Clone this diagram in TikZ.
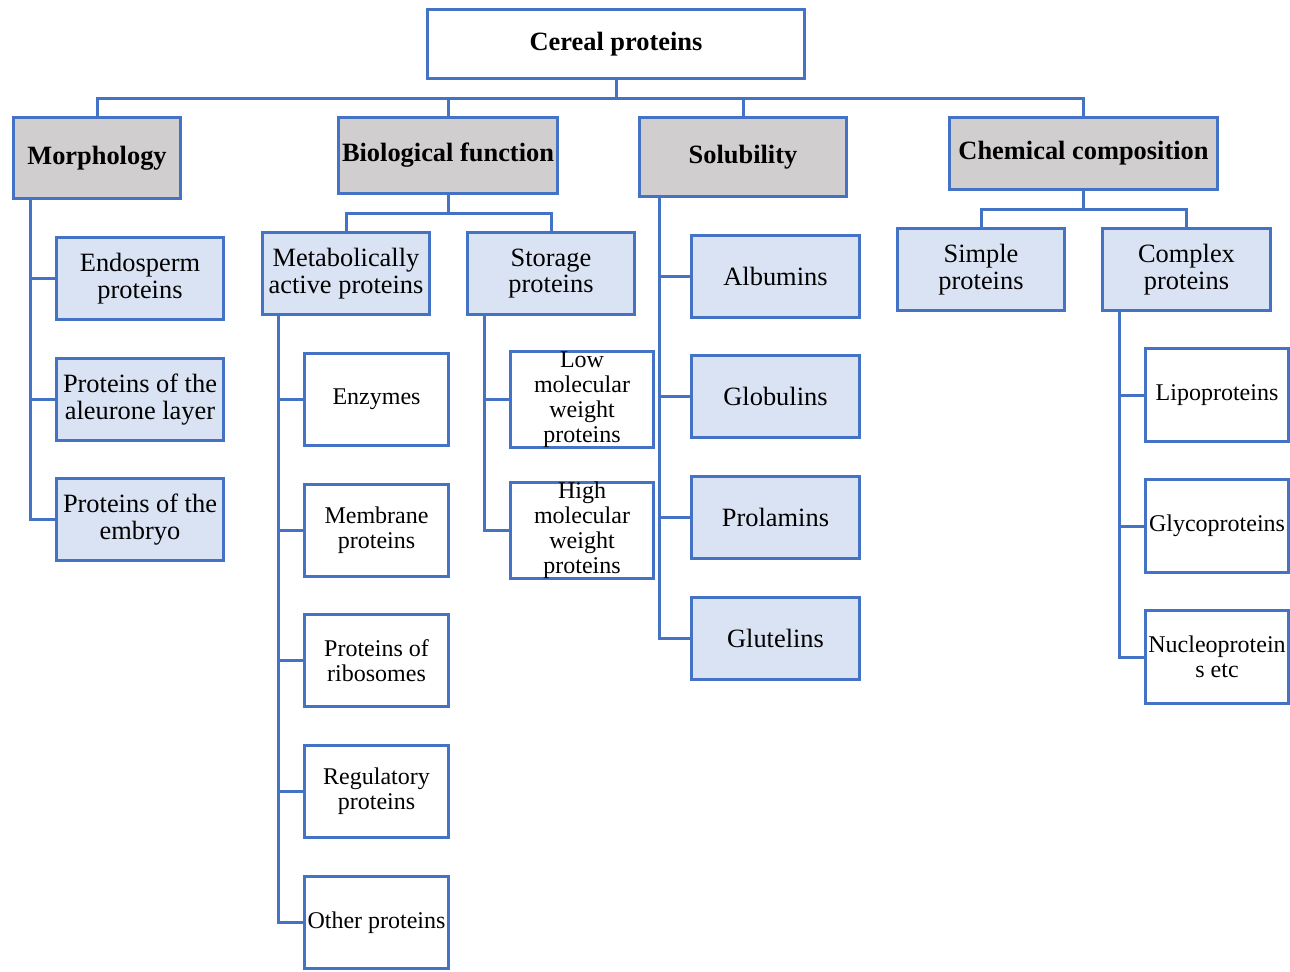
\documentclass[tikz,border=0pt]{standalone}
\usepackage{fontspec}
\setmainfont{Liberation Serif}
\definecolor{lineblue}{HTML}{4472C4}
\definecolor{catgray}{HTML}{D0CECE}
\definecolor{boxblue}{HTML}{DAE3F3}
\newcommand\bigtxt{\fontsize{13.2}{13.4}\selectfont}
\newcommand\smalltxt{\fontsize{12}{12.5}\selectfont}
\begin{document}
\begin{tikzpicture}[x=0.5pt, y=-0.5pt,
  box/.style={draw=lineblue, line width=1.5pt, align=center, inner sep=1pt},
  sz/.style 2 args={minimum width=#1*0.5pt, minimum height=#2*0.5pt},
  cat/.style={box, fill=catgray, font=\bigtxt\bfseries},
  sub/.style={box, fill=boxblue, font=\bigtxt},
  leaf/.style={box, fill=white, font=\smalltxt},
  link/.style={draw=lineblue, line width=1.5pt}]
  \useasboundingbox (0,0) rectangle (1290,971);
  % top level
  \node[box, font=\bigtxt\bfseries, sz={377}{69}] (root) at (616,44) {Cereal proteins};
  \node[cat, sz={167}{81}] (morph) at (97,158) {Morphology};
  \node[cat, sz={219}{76}] (bio) at (448,155.5) {Biological function};
  \node[cat, sz={207}{79}] (sol) at (743,157) {Solubility};
  \node[cat, sz={268}{72}] (chem) at (1083.5,153.5) {Chemical composition};
  % morphology
  \node[sub, sz={167}{82}] (endo) at (140,278.5) {Endosperm\\proteins};
  \node[sub, sz={167}{82}] (aleu) at (140,399.5) {Proteins of the\\aleurone layer};
  \node[sub, sz={167}{82}] (embr) at (140,519.5) {Proteins of the\\embryo};
  % biological function
  \node[sub, sz={167}{82}] (metab) at (346,273.5) {Metabolically\\active proteins};
  \node[sub, sz={167}{82}] (stor) at (551,273.5) {Storage\\proteins};
  \node[leaf, sz={144}{92}] (enz) at (376.5,399.5) {Enzymes};
  \node[leaf, sz={144}{92}] (memb) at (376.5,530.5) {Membrane\\proteins};
  \node[leaf, sz={144}{92}] (ribo) at (376.5,660.5) {Proteins of\\ribosomes};
  \node[leaf, sz={144}{92}] (regu) at (376.5,791.5) {Regulatory\\proteins};
  \node[leaf, sz={144}{92}] (othr) at (376.5,922.5) {Other proteins};
  \node[leaf, inner ysep=0pt, sz={143}{92}] (lmw) at (582,399.5) {Low\\molecular\\weight\\proteins};
  \node[leaf, inner ysep=0pt, sz={143}{92}] (hmw) at (582,530.5) {High\\molecular\\weight\\proteins};
  % solubility
  \node[sub, sz={168}{82}] (alb) at (775.5,276.5) {Albumins};
  \node[sub, sz={168}{82}] (glob) at (775.5,396.5) {Globulins};
  \node[sub, sz={168}{82}] (prol) at (775.5,517.5) {Prolamins};
  \node[sub, sz={168}{82}] (glut) at (775.5,638.5) {Glutelins};
  % chemical composition
  \node[sub, sz={167}{82}] (simp) at (981,269.5) {Simple\\proteins};
  \node[sub, sz={168}{82}] (cplx) at (1186.5,269.5) {Complex\\proteins};
  \node[leaf, sz={143}{93}] (lipo) at (1217,395) {Lipoproteins};
  \node[leaf, sz={143}{93}] (glyco) at (1217,526) {Glycoproteins};
  \node[leaf, sz={143}{93}] (nucl) at (1217,657) {Nucleoprotein\\s etc};
  % connectors
  \foreach \c in {morph,bio,sol,chem}
    \draw[link] (root.south) -- ++(0,18) -| (\c.north);
  \foreach \c in {endo,aleu,embr}
    \draw[link] (morph.south west) ++(18,0) |- (\c.west);
  \foreach \c in {metab,stor}
    \draw[link] (bio.south) -- ++(0,18) -| (\c.north);
  \foreach \c in {enz,memb,ribo,regu,othr}
    \draw[link] (metab.south west) ++(17,0) |- (\c.west);
  \foreach \c in {lmw,hmw}
    \draw[link] (stor.south west) ++(18,0) |- (\c.west);
  \foreach \c in {alb,glob,prol,glut}
    \draw[link] (sol.south west) ++(21,0) |- (\c.west);
  \foreach \c in {simp,cplx}
    \draw[link] (chem.south) -- ++(0,18) -| (\c.north);
  \foreach \c in {lipo,glyco,nucl}
    \draw[link] (cplx.south west) ++(18,0) |- (\c.west);
\end{tikzpicture}
\end{document}
